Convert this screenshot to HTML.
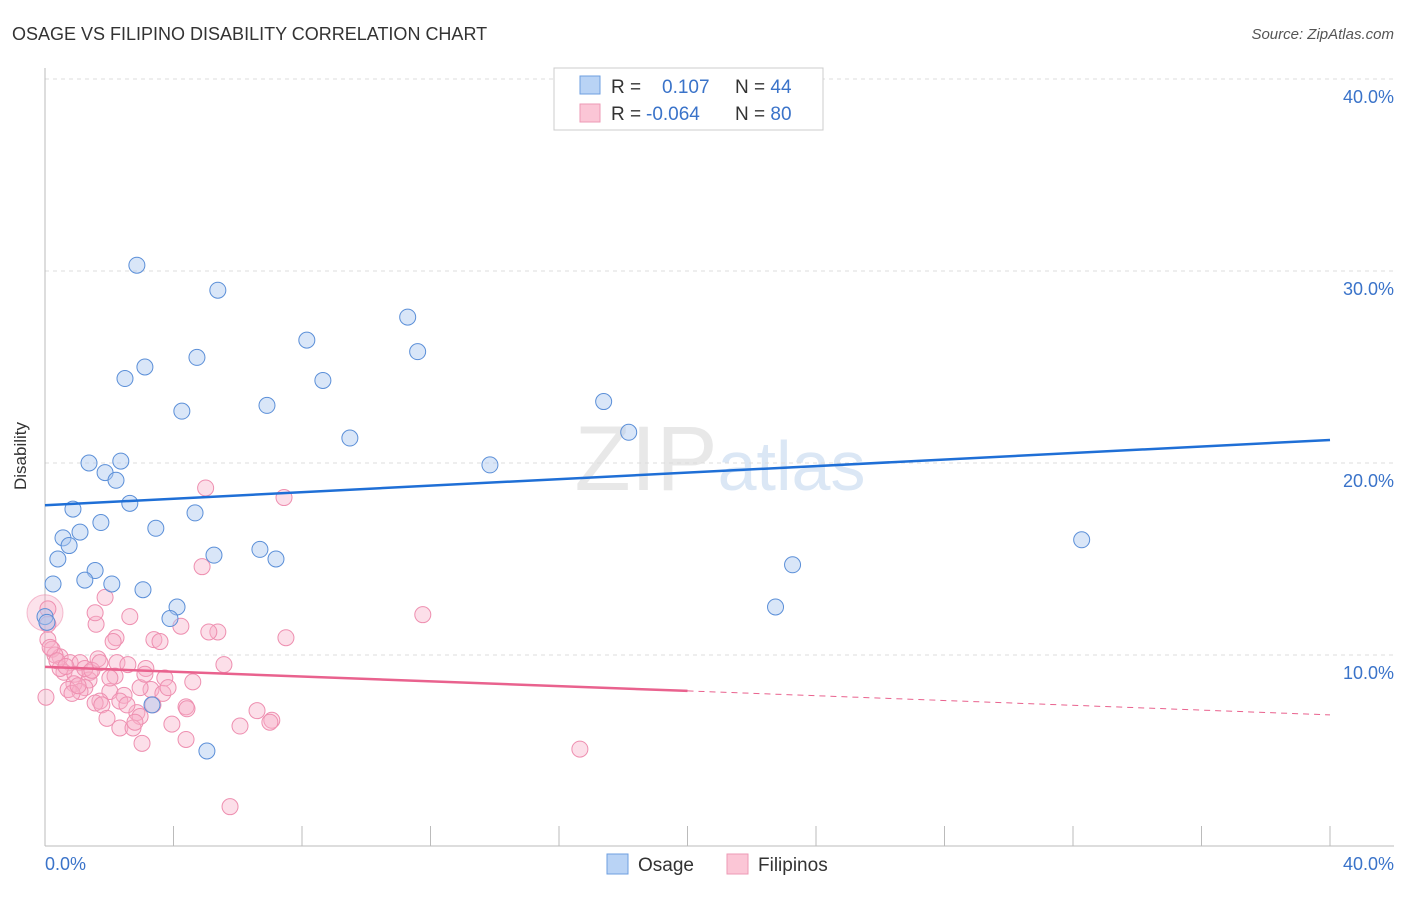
<!DOCTYPE html>
<html><head><meta charset="utf-8"><style>
body{margin:0;background:#fff;font-family:"Liberation Sans",sans-serif;}
svg text{font-family:"Liberation Sans",sans-serif;}
</style></head><body>
<svg width="1406" height="892" xmlns="http://www.w3.org/2000/svg" id="chart">
<text x="12" y="40" font-size="18" fill="#333">OSAGE VS FILIPINO DISABILITY CORRELATION CHART</text>
<text x="1394" y="39" font-size="15" fill="#555" font-style="italic" text-anchor="end">Source: ZipAtlas.com</text>
<text x="720" y="490" font-size="92" fill="#e8e8e8" text-anchor="middle" font-family="Liberation Serif">ZIP<tspan fill="#dbe7f5" font-family="Liberation Sans" font-size="70">atlas</tspan></text>
<g id="grid"></g>
<line x1="45" y1="68" x2="45" y2="846" stroke="#bbb"/>
<line x1="45" y1="846" x2="1394" y2="846" stroke="#bbb"/>
<g id="xticks"></g>
<text x="26" y="456" font-size="17" fill="#333" transform="rotate(-90 26 456)" text-anchor="middle">Disability</text>
<text x="45" y="870" font-size="18" fill="#3a73c9">0.0%</text>
<text x="1394" y="870" font-size="18" fill="#3a73c9" text-anchor="end">40.0%</text>
<g id="pts"></g>
<g id="trend"></g>
<g>
<rect x="554" y="68" width="269" height="62" fill="#fff" stroke="#ccc"/>
<rect x="580" y="76" width="20" height="18" fill="#b9d3f5" stroke="#6e9fe0"/>
<rect x="580" y="104" width="20" height="18" fill="#fbc6d6" stroke="#ee9ab5"/>
<text x="611" y="93" font-size="19" fill="#333">R = <tspan x="662" fill="#3a73c9">0.107</tspan><tspan x="735" fill="#333">N = </tspan><tspan fill="#3a73c9">44</tspan></text>
<text x="611" y="120" font-size="19" fill="#333">R = <tspan x="646" fill="#3a73c9">-0.064</tspan><tspan x="735" fill="#333">N = </tspan><tspan fill="#3a73c9">80</tspan></text>
</g>
<g>
<rect x="607" y="854" width="21" height="20" fill="#b9d3f5" stroke="#6e9fe0"/>
<text x="638" y="871" font-size="19" fill="#333">Osage</text>
<rect x="727" y="854" width="21" height="20" fill="#fbc6d6" stroke="#ee9ab5"/>
<text x="758" y="871" font-size="19" fill="#333">Filipinos</text>
</g>
</svg>
<script>
const yTicks=[10,20,30,40];
const xTickVals=[0,4,8,12,16,20,24,28,32,36,40];
const osageX=[2.86,5.38,11.29,8.15,11.6,4.73,3.11,2.49,8.65,4.26,6.91,17.39,18.17,9.49,13.85,1.37,2.36,1.87,2.21,2.64,4.67,0.87,1.74,3.45,1.09,0.56,0.75,32.27,6.69,5.26,7.19,0.4,23.27,1.56,1.24,2.08,0.25,3.05,22.74,4.11,3.89,0.0,0.06,3.33,5.04];
const osageY=[30.3,29.0,27.6,26.4,25.8,25.5,25.0,24.4,24.3,22.7,23.0,23.2,21.6,21.3,19.9,20.0,20.1,19.5,19.1,17.9,17.4,17.6,16.9,16.6,16.4,16.1,15.7,16.0,15.5,15.2,15.0,15.0,14.7,14.4,13.9,13.7,13.7,13.4,12.5,12.5,11.9,12.0,11.7,7.4,5.0];
const filX=[5.0,7.44,4.89,1.87,2.64,1.59,11.76,4.23,5.38,5.1,3.39,3.58,2.21,7.5,2.12,0.09,0.22,0.47,0.31,0.78,1.09,1.65,0.59,0.93,1.4,2.24,2.58,3.14,5.57,3.73,4.6,1.37,1.24,0.9,0.72,1.09,2.02,2.46,3.3,3.67,2.96,1.71,1.56,2.33,3.36,4.39,1.77,0.84,2.86,4.42,6.6,1.93,2.96,3.95,2.33,2.74,6.07,7.06,7.0,4.39,3.02,16.65,5.76,0.47,1.24,0.16,0.37,0.65,1.46,2.18,3.11,3.83,2.55,2.8,2.02,1.71,0.03,1.03,1.56,0.09,0.09];
const filY=[18.7,18.2,14.6,13.0,12.0,11.6,12.1,11.5,11.2,11.2,10.8,10.7,10.9,10.9,10.7,10.8,10.3,9.9,10.0,9.6,9.6,9.8,9.1,9.0,9.1,9.6,9.5,9.3,9.5,8.8,8.6,8.7,8.3,8.5,8.2,8.1,8.1,7.9,8.2,8.0,8.3,7.6,7.5,7.6,7.4,7.3,7.4,8.0,7.0,7.2,7.1,6.7,6.8,6.4,6.2,6.2,6.3,6.6,6.5,5.6,5.4,5.1,2.1,9.3,9.3,10.4,9.7,9.4,9.2,8.9,9.0,8.3,7.4,6.5,8.8,9.6,7.8,8.4,12.2,11.6,12.4];
const blueTrend=[17.8,21.2];
const pinkTrend=[9.38,8.13,6.88];
const X=v=>45+v*32.125, Y=v=>847-v*19.2;
const NS='http://www.w3.org/2000/svg';
function mk(tag,parent,attrs){const e=document.createElementNS(NS,tag);for(const k in attrs)e.setAttribute(k,attrs[k]);document.getElementById(parent).appendChild(e);return e;}
yTicks.forEach(t=>{
 const l=mk('line','grid',{x1:45,x2:1394,y1:Y(t),y2:Y(t),stroke:'#ddd','stroke-dasharray':'4,4'});
 
 
 const tx=mk('text','grid',{x:1394,y:Y(t)+24,'font-size':18,fill:'#3a73c9','text-anchor':'end'});
 tx.textContent=t.toFixed(1)+'%';
 
 
});
xTickVals.forEach(t=>{
 const l=mk('line','xticks',{x1:X(t),x2:X(t),y1:826,y2:846,stroke:'#bbb'});
 
 
});
mk('circle','pts',{cx:X(0),cy:Y(12.2),r:18,fill:'rgba(245,160,190,0.3)',stroke:'rgba(235,130,165,0.5)'});
const nF=Math.min(filX.length,filY.length);
for(let i=0;i<nF;i++){
 const c=mk('circle','pts',{cx:X(filX[i]),cy:Y(filY[i]),r:8,fill:'rgba(248,175,200,0.4)',stroke:'#ee8fb0','stroke-width':1});
 
 
}
osageX.forEach((x,i)=>{
 const c=mk('circle','pts',{cx:X(x),cy:Y(osageY[i]),r:8,fill:'rgba(170,200,240,0.45)',stroke:'#5b8fd8','stroke-width':1});
 
 
});
let b=mk('line','trend',{x1:X(0),y1:Y(blueTrend[0]),x2:X(40),y2:Y(blueTrend[1]),stroke:'#1f6fd6','stroke-width':2.5});


let p=mk('line','trend',{x1:X(0),y1:Y(pinkTrend[0]),x2:X(20),y2:Y(pinkTrend[1]),stroke:'#e9628e','stroke-width':2.5});


let pd=mk('line','trend',{x1:X(20),y1:Y(pinkTrend[1]),x2:X(40),y2:Y(pinkTrend[2]),stroke:'#e9628e','stroke-width':1,'stroke-dasharray':'6,5'});


</script>
</body></html>
